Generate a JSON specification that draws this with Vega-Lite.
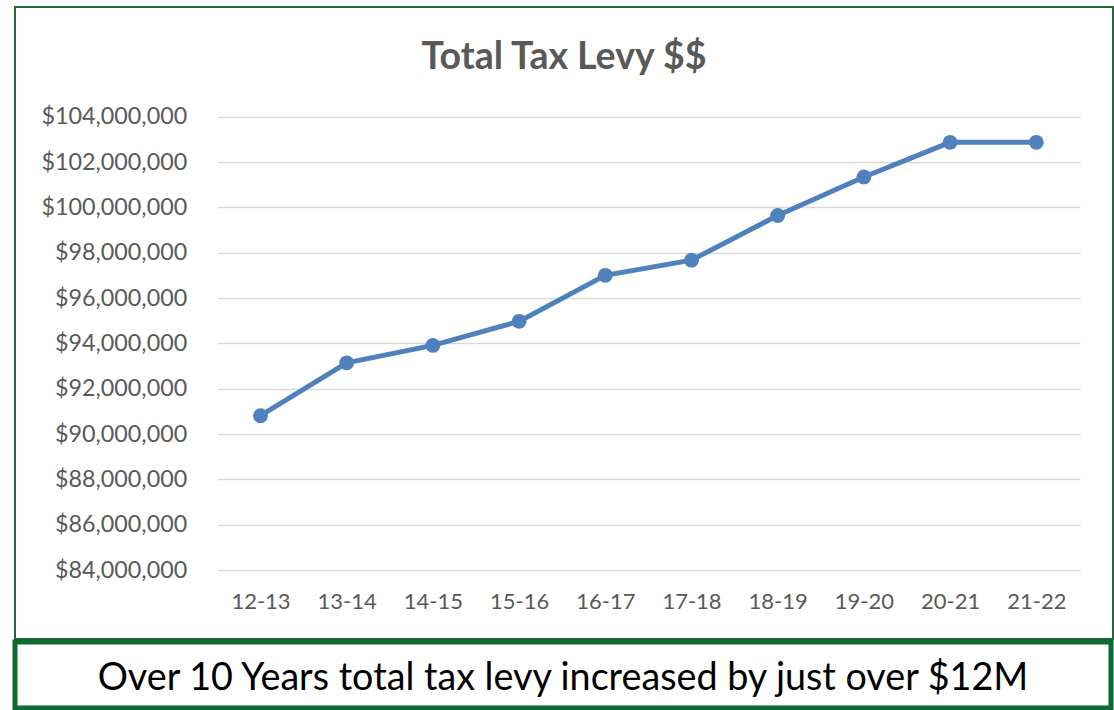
{
  "$schema": "https://vega.github.io/schema/vega-lite/v6.json",
  "padding": {"left": 12, "top": 6, "right": 0, "bottom": 0},
  "background": "#ffffff",
  "spacing": 3,
  "bounds": "flush",
  "config": {"font": "Lato"},
  "vconcat": [
    {
      "width": 1098,
      "height": 632,
      "view": {"stroke": "#1E6B3A", "strokeWidth": 2, "fill": "#ffffff"},
      "title": {
        "text": "Total Tax Levy $$",
        "font": "Lato",
        "fontSize": 37.5,
        "fontWeight": "bold",
        "color": "#595959",
        "anchor": "middle",
        "frame": "group",
        "baseline": "alphabetic",
        "offset": -99
      },
      "data": {
        "values": [
          {"year": "12-13", "levy": 90810000},
          {"year": "13-14", "levy": 93140000},
          {"year": "14-15", "levy": 93910000},
          {"year": "15-16", "levy": 94970000},
          {"year": "16-17", "levy": 97000000},
          {"year": "17-18", "levy": 97670000},
          {"year": "18-19", "levy": 99640000},
          {"year": "19-20", "levy": 101340000},
          {"year": "20-21", "levy": 102870000},
          {"year": "21-22", "levy": 102870000}
        ]
      },
      "encoding": {
        "x": {
          "field": "year",
          "type": "ordinal",
          "sort": null,
          "scale": {"type": "point", "range": [245.5, 1021.3], "padding": 0},
          "axis": {
            "title": null,
            "labelAngle": 0,
            "domain": false,
            "ticks": false,
            "grid": false,
            "offset": -69,
            "labelPadding": 21,
            "labelFont": "Lato",
            "labelFontSize": 22,
            "labelColor": "#595959"
          }
        },
        "y": {
          "field": "levy",
          "type": "quantitative",
          "scale": {"domain": [84000000, 104000000], "range": [563, 109.7], "nice": false, "zero": false},
          "axis": {
            "title": null,
            "domain": false,
            "grid": false,
            "ticks": true,
            "tickSize": -862.6,
            "tickColor": "#D9D9D9",
            "tickWidth": 1.5,
            "offset": -202.4,
            "labelPadding": 893.3,
            "values": [84000000, 86000000, 88000000, 90000000, 92000000, 94000000, 96000000, 98000000, 100000000, 102000000, 104000000],
            "format": "$,.0f",
            "labelFont": "Lato",
            "labelFontSize": 23.3,
            "labelColor": "#595959"
          }
        }
      },
      "layer": [
        {"mark": {"type": "line", "color": "#4F81BD", "strokeWidth": 5}},
        {"mark": {"type": "point", "filled": true, "color": "#4F81BD", "size": 220, "opacity": 1}}
      ]
    },
    {
      "width": 1096,
      "height": 66,
      "view": {"stroke": "#0B6B33", "strokeWidth": 5, "fill": "#ffffff"},
      "data": {"values": [{"note": "Over 10 Years total tax levy increased by just over $12M"}]},
      "mark": {"type": "text", "font": "Lato", "fontSize": 37.7, "color": "#000000", "baseline": "alphabetic", "dy": 15},
      "encoding": {"text": {"field": "note"}}
    }
  ]
}
